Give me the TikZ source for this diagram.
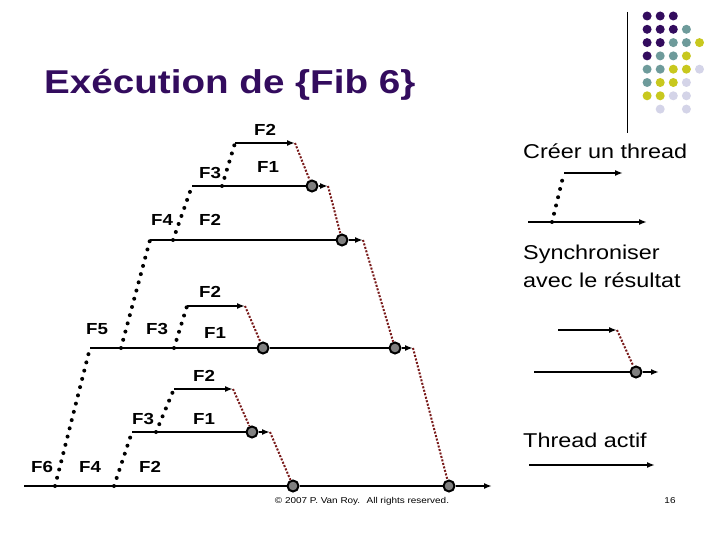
\documentclass[tikz,border=0pt]{standalone}
\usepackage{fontspec}
\setmainfont{Liberation Sans}[FakeStretch=1.17]
\usetikzlibrary{arrows.meta}
\definecolor{titlepurple}{RGB}{51,12,94}
\definecolor{dotteal}{RGB}{110,155,155}
\definecolor{dotyellow}{RGB}{200,200,30}
\definecolor{dotlilac}{RGB}{212,212,232}
\definecolor{syncred}{RGB}{120,25,25}
\definecolor{joingray}{RGB}{128,128,128}

\begin{document}
\begin{tikzpicture}[
        x=1pt, y=-1pt,
        lbl/.style={font=\fontsize{16}{18}\selectfont\bfseries, inner sep=0pt},
        legend/.style={font=\fontsize{20}{28}\selectfont, anchor=base west, inner sep=0pt, align=left},
        thread/.style={line width=2pt},
        fork/.style={line width=4pt, line cap=round, dash pattern=on 0pt off 8.5pt},
        sync/.style={syncred, line width=2pt, dash pattern=on 2pt off 1.6pt},
        joinpt/.style={circle, draw, line width=2pt, fill=joingray, minimum size=11pt, inner sep=0pt},
        >={Latex[length=8pt, width=6pt]}
      ]
        \useasboundingbox[fill=white] (0,0) rectangle (720,540);

        \node[font=\fontsize{33}{36}\selectfont\bfseries, text=titlepurple, anchor=base west, inner sep=0pt]
            (title) at (44,94) {Exécution de \{Fib 6\}};
        \draw[line width=1pt] (627,12) -- (627,133);
        \foreach \c/\r/\col in {1/1/titlepurple, 2/1/titlepurple, 3/1/titlepurple,
                1/2/titlepurple, 2/2/titlepurple, 3/2/titlepurple, 4/2/dotteal,
                1/3/titlepurple, 2/3/titlepurple, 3/3/dotteal, 4/3/dotteal, 5/3/dotyellow,
                1/4/titlepurple, 2/4/dotteal, 3/4/dotteal, 4/4/dotyellow,
                1/5/dotteal, 2/5/dotteal, 3/5/dotyellow, 4/5/dotyellow, 5/5/dotlilac,
                1/6/dotteal, 2/6/dotyellow, 3/6/dotyellow, 4/6/dotlilac,
                1/7/dotyellow, 2/7/dotyellow, 3/7/dotlilac, 4/7/dotlilac,
                2/8/dotlilac, 4/8/dotlilac}
            \fill[\col] (634+13.1*\c, 2.7+13.3*\r) circle (4.5);

        % joins
        \node[joinpt] (j3)  at (312,186) {};
        \node[joinpt] (j4)  at (342,240) {};
        \node[joinpt] (j5a) at (263,348) {};
        \node[joinpt] (j5b) at (395,348) {};
        \node[joinpt] (j3b) at (252,432) {};
        \node[joinpt] (j6a) at (293,486) {};
        \node[joinpt] (j6b) at (449,486) {};

        \coordinate (s2)  at (235,143); \coordinate (e2)  at (295,143);
        \coordinate (s3)  at (192,186); \coordinate (f3)  at (222,186); \coordinate (e3) at (328,186);
        \coordinate (s4)  at (150,240); \coordinate (f4)  at (173,240); \coordinate (e4) at (363,240);
        \coordinate (s2m) at (187,306); \coordinate (e2m) at (245,306);
        \coordinate (s5)  at (90,348);  \coordinate (f5a) at (121,348); \coordinate (f5b) at (174,348);
        \coordinate (e5)  at (413,348);
        \coordinate (s2b) at (174,389); \coordinate (e2b) at (233,389);
        \coordinate (s3b) at (132,432); \coordinate (f3b) at (156,432); \coordinate (e3b) at (270,432);
        \coordinate (s6)  at (24,486);  \coordinate (f6a) at (55,486);  \coordinate (f6b) at (114,486);
        \coordinate (e6)  at (492,486);

        \draw[thread,->] (s2) -- (e2);
        \draw[thread,->] (s3) -- (j3) -- (e3);
        \draw[thread,->] (s4) -- (j4) -- (e4);
        \draw[thread,->] (s2m) -- (e2m);
        \draw[thread,->] (s5) -- (j5a) -- (j5b) -- (e5);
        \draw[thread,->] (s2b) -- (e2b);
        \draw[thread,->] (s3b) -- (j3b) -- (e3b);
        \draw[thread,->] (s6) -- (j6a) -- (j6b) -- (e6);

        \draw[fork] (f3) -- (s2);
        \draw[fork] (f4) -- (s3);
        \draw[fork] (f5a) -- (s4);
        \draw[fork] (f5b) -- (s2m);
        \draw[fork] (f3b) -- (s2b);
        \draw[fork] (f6a) -- (s5);
        \draw[fork] (f6b) -- (s3b);

        \draw[sync] (e2) -- (j3);
        \draw[sync] (e3) -- (j4);
        \draw[sync] (e4) -- (j5b);
        \draw[sync] (e2m) -- (j5a);
        \draw[sync] (e5) -- (j6b);
        \draw[sync] (e2b) -- (j3b);
        \draw[sync] (e3b) -- (j6a);

        \node[lbl] (l2t) at (265,130) {F2};
        \node[lbl] (l3t) at (210,173) {F3};
        \node[lbl] (l1t) at (268,167) {F1};
        \node[lbl] (l4t) at (162,220) {F4};
        \node[lbl] (l2u) at (210,220) {F2};
        \node[lbl] (l2m) at (210,292) {F2};
        \node[lbl] (l5m) at (97,329)  {F5};
        \node[lbl] (l3m) at (157,329) {F3};
        \node[lbl] (l1m) at (215,333) {F1};
        \node[lbl] (l2b) at (204,376) {F2};
        \node[lbl] (l3b) at (143,419) {F3};
        \node[lbl] (l1b) at (204,419) {F1};
        \node[lbl] (l6b) at (42,467)  {F6};
        \node[lbl] (l4b) at (90,467)  {F4};
        \node[lbl] (l2c) at (150,467) {F2};

        % legend
        \node[legend] (create) at (523,159) {Créer un thread};
        \coordinate (cs) at (564,173); \coordinate (ce) at (623,173);
        \coordinate (cp) at (528,222); \coordinate (cf) at (552,222); \coordinate (cq) at (647,222);
        \draw[thread,->] (cs) -- (ce);
        \draw[thread,->] (cp) -- (cq);
        \draw[fork] (cf) -- (cs);

        \node[legend] (synctxt) at (523,287) {Synchroniser\\avec le résultat};
        \node[joinpt] (sj) at (636,372) {};
        \coordinate (ss) at (558,330); \coordinate (se) at (617,330);
        \coordinate (sp) at (534,372); \coordinate (sq) at (659,372);
        \draw[thread,->] (ss) -- (se);
        \draw[thread,->] (sp) -- (sj) -- (sq);
        \draw[sync] (se) -- (sj);

        \node[legend] (active) at (523,447) {Thread actif};
        \coordinate (as) at (529,465); \coordinate (ae) at (655,465);
        \draw[thread,->] (as) -- (ae);

        \node[font=\fontsize{8.5}{10}\selectfont] (copy) at (362,501) {© 2007 P. Van Roy.~ All rights reserved.};
        \node[font=\fontsize{8.5}{10}\selectfont] (page) at (670,501) {16};
    \end{tikzpicture}
\end{document}
